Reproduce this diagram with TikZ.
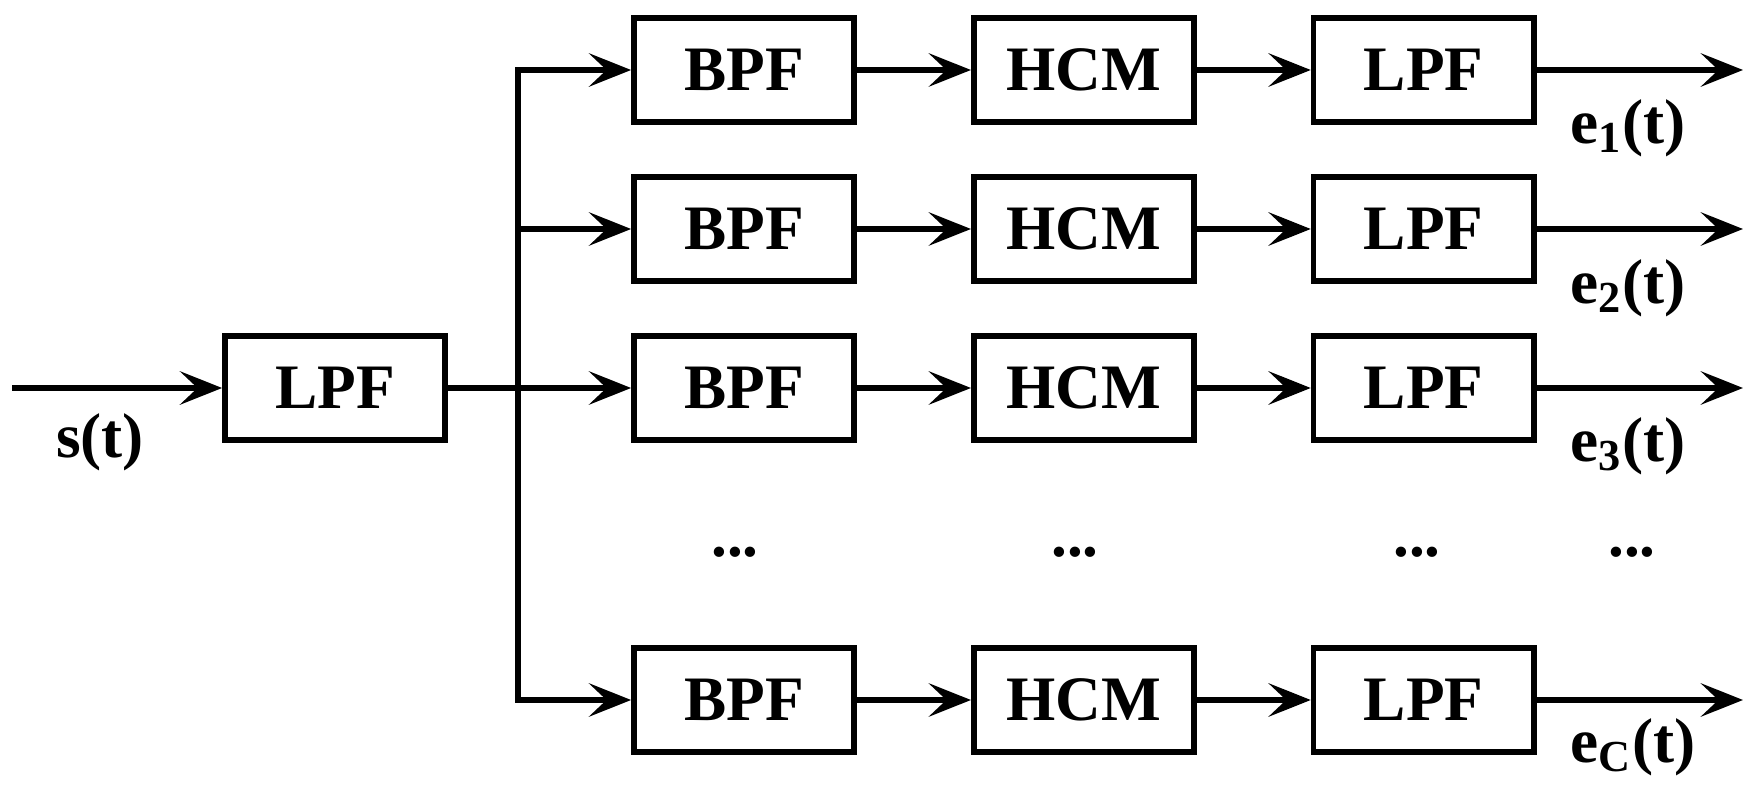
\documentclass[tikz,border=0pt]{standalone}
\usepackage{fontspec}
\setmainfont{Liberation Serif}
\usepackage{tikz}
\usetikzlibrary{arrows.meta, positioning}

\begin{document}
\begin{tikzpicture}[x=0.01cm, y=-0.01cm, node distance=1.14cm,
    line width=1.6pt, >={Stealth[length=12pt, width=9.5pt, inset=5pt]},
    every node/.style={font=\fontsize{18}{20}\selectfont\bfseries},
    blk/.style={draw, rectangle, minimum width=2.2cm, minimum height=1.04cm, inner sep=0pt}]
    \useasboundingbox (0,0) rectangle (1758,807);
    % input stage
    \coordinate (in) at (12,388);
    \node[blk] (lpf0) at (335,388) {LPF};
    \coordinate (split) at (518,388);
    \node at (100,442) (sig) {s(t)};
    % filter bank rows
    \node[blk] (bpf1) at (744,70) {BPF};
    \node[blk, right=of bpf1] (hcm1) {HCM};
    \node[blk, right=of hcm1] (lpf1) {LPF};
    \node[blk] (bpf2) at (744,229) {BPF};
    \node[blk, right=of bpf2] (hcm2) {HCM};
    \node[blk, right=of hcm2] (lpf2) {LPF};
    \node[blk] (bpf3) at (744,388) {BPF};
    \node[blk, right=of bpf3] (hcm3) {HCM};
    \node[blk, right=of hcm3] (lpf3) {LPF};
    \node[blk] (bpfC) at (744,700) {BPF};
    \node[blk, right=of bpfC] (hcmC) {HCM};
    \node[blk, right=of hcmC] (lpfC) {LPF};
    % outputs
    \coordinate (out1) at (1743,70);
    \coordinate (out2) at (1743,229);
    \coordinate (out3) at (1743,388);
    \coordinate (outC) at (1743,700);
    \node at (1628,128) (e1) {e\textsubscript{1}(t)};
    \node at (1628,288) (e2) {e\textsubscript{2}(t)};
    \node at (1628,446) (e3) {e\textsubscript{3}(t)};
    \node at (1633,747) (eC) {e\textsubscript{C}(t)};
    % dots
    \node at (735,552) (d1) {...};
    \node at (1075,552) (d2) {...};
    \node at (1417,552) (d3) {...};
    \node at (1632,552) (d4) {...};
    % connectors
    \draw[->] (in) -- (lpf0);
    \draw (lpf0) -- (split);
    \draw[->] (split) |- (bpf1);
    \draw[->] (split) |- (bpf2);
    \draw[->] (split) -- (bpf3);
    \draw[->] (split) |- (bpfC);
    \draw[->] (bpf1) -- (hcm1);
    \draw[->] (hcm1) -- (lpf1);
    \draw[->] (lpf1) -- (out1);
    \draw[->] (bpf2) -- (hcm2);
    \draw[->] (hcm2) -- (lpf2);
    \draw[->] (lpf2) -- (out2);
    \draw[->] (bpf3) -- (hcm3);
    \draw[->] (hcm3) -- (lpf3);
    \draw[->] (lpf3) -- (out3);
    \draw[->] (bpfC) -- (hcmC);
    \draw[->] (hcmC) -- (lpfC);
    \draw[->] (lpfC) -- (outC);
\end{tikzpicture}
\end{document}
